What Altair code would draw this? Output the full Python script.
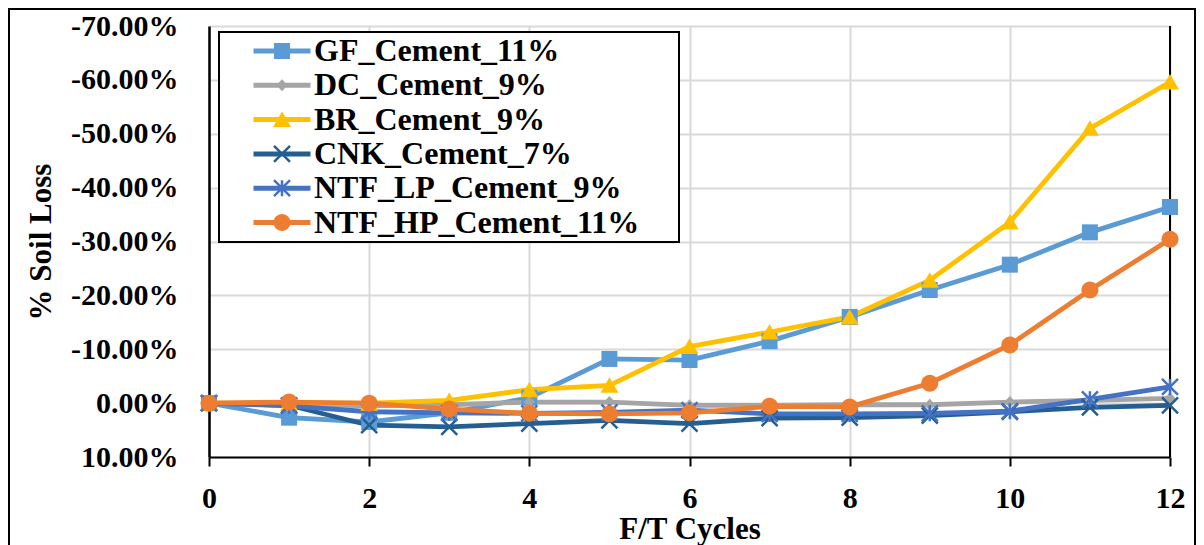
import altair as alt
import pandas as pd

# ---------------- data ----------------
cycles = [0, 1, 2, 3, 4, 5, 6, 7, 8, 9, 10, 11, 12]
series_names = ["GF_Cement_11%", "DC_Cement_9%", "BR_Cement_9%",
                "CNK_Cement_7%", "NTF_LP_Cement_9%", "NTF_HP_Cement_11%"]
series_keys = ["GF", "DC", "BR", "CNK", "NTF_LP", "NTF_HP"]

gf_cement_11 = [0, 2.7, 3.5, 1.8, -1.0, -8.2, -8.0, -11.5, -16.0, -21.0, -25.7, -31.7, -36.4]
dc_cement_9 = [0, 0.2, 0.5, 0.3, -0.2, -0.2, 0.4, 0.4, 0.3, 0.3, -0.2, -0.5, -0.9]
br_cement_9 = [0, 0, 0, -0.5, -2.5, -3.3, -10.5, -13.2, -16.0, -22.8, -33.6, -51.0, -59.6]
cnk_cement_7 = [0, 0.4, 4.1, 4.4, 3.8, 3.2, 3.8, 2.8, 2.7, 2.3, 1.6, 0.8, 0.4]
ntf_lp_cement_9 = [0, 0.5, 1.6, 1.8, 1.9, 1.7, 1.3, 2.0, 2.0, 1.9, 1.5, -0.7, -3.0]
ntf_hp_cement_11 = [0, -0.2, 0, 1.1, 1.9, 2.0, 1.8, 0.6, 0.7, -3.7, -10.8, -21.0, -30.4]

colors = ["#5B9BD5", "#A5A5A5", "#FFC000", "#255E91", "#4472C4", "#ED7D31"]
y_ticks = [-70, -60, -50, -40, -30, -20, -10, 0, 10]
x_ticks = [0, 2, 4, 6, 8, 10, 12]

# marker shapes (custom paths, unit box scaled by sqrt(size)/2)
a = 0.18
b = 0.25
s = 1.6
x_bar1 = f"M{-s+a},{-s-a}L{s+a},{s-a}L{s-a},{s+a}L{-s-a},{-s+a}Z"
x_bar2 = f"M{-s-a},{s-a}L{s-a},{-s-a}L{s+a},{-s+a}L{-s+a},{s+a}Z"
v_bar = f"M{-b},{-s}L{b},{-s}L{b},{s}L{-b},{s}Z"
markers = [
    "M-1.6,-1.6H1.6V1.6H-1.6Z",
    "M0,-1.2L1.1,0L0,1.2L-1.1,0Z",
    "M0,-1.6L1.8,1.5L-1.8,1.5Z",
    x_bar1 + x_bar2,
    x_bar1 + x_bar2 + v_bar,
    "M1.7,0C1.7,0.94 0.94,1.7 0,1.7C-0.94,1.7 -1.7,0.94 -1.7,0"
    "C-1.7,-0.94 -0.94,-1.7 0,-1.7C0.94,-1.7 1.7,-0.94 1.7,0Z",
]

rows = []
for name, key, vals in zip(series_names, series_keys,
                           [gf_cement_11, dc_cement_9, br_cement_9,
                            cnk_cement_7, ntf_lp_cement_9, ntf_hp_cement_11]):
    for c, v in zip(cycles, vals):
        rows.append({"cycle": c, "loss": v, "series": name, "key": key})
df = pd.DataFrame(rows)

FONT = "Liberation Serif"
W, H = 961, 431

x_enc = alt.X(
    "cycle:Q",
    scale=alt.Scale(domain=[0, 12], nice=False, zero=False),
    axis=alt.Axis(
        values=x_ticks, title="F/T Cycles", format="d",
        grid=True, gridColor="#d9d9d9", gridWidth=2,
        domainColor="black", domainWidth=2,
        tickColor="black", tickWidth=2, tickSize=9,
        labelFont=FONT, labelFontSize=30, labelFontWeight="bold", labelColor="black",
        labelPadding=17, labelFlush=False, labelOverlap=False,
        titleFont=FONT, titleFontSize=31, titleFontWeight="bold", titleColor="black",
        titleX=W / 2, titleY=81, titleAlign="center", titleBaseline="alphabetic",
    ),
)
y_enc = alt.Y(
    "loss:Q",
    scale=alt.Scale(domain=[-70, 10], reverse=True, nice=False, zero=False),
    axis=alt.Axis(
        values=y_ticks, title="% Soil Loss",
        labelExpr="replace(format(datum.value, '.2f'), '\u2212', '-') + '%'",
        grid=True, gridColor="#d9d9d9", gridWidth=2,
        domainColor="black", domainWidth=2.5, ticks=False,
        labelFont=FONT, labelFontSize=30, labelFontWeight="bold", labelColor="black",
        labelPadding=31, labelOverlap=False, labelFlush=False,
        titleFont=FONT, titleFontSize=31, titleFontWeight="bold", titleColor="black",
        titleX=-168, titleY=H / 2, titleAngle=270, titleAlign="center", titleBaseline="middle",
    ),
)

common_legend = dict(
    orient="none", legendX=10, legendY=6, padding=2,
    rowPadding=0.3, clipHeight=34,
    labelFont=FONT, labelFontSize=32, labelFontWeight="bold",
    labelLimit=1000, symbolSize=100, symbolStrokeWidth=5,
    symbolOffset=45, labelOffset=16, symbolOpacity=1,
)

legend_lines = alt.Legend(
    strokeColor="black", fillColor="white", labelColor="black",
    symbolType="M-5.7,0L5.7,0",
    title=".", titleColor="transparent", titleFontSize=6, titleOrient="right",
    titlePadding=36,
    **common_legend,
)
legend_marks = alt.Legend(
    strokeColor="transparent", fillColor="transparent", labelColor="transparent",
    symbolStrokeColor="transparent", labelExpr="''", title=None,
    **common_legend,
)

frame = alt.Chart(pd.DataFrame({"f": [0]})).mark_rect(
    fillOpacity=0, stroke="black", strokeWidth=2
).encode(
    x=alt.value(-200), x2=alt.value(W + 25), y=alt.value(-17), y2=alt.value(H + 120)
)

base = alt.Chart(df)

right_edge = base.mark_rule(color="black", strokeWidth=2).encode(x="max(cycle):Q")

lines = base.mark_line(strokeWidth=4.8).encode(
    x=x_enc, y=y_enc,
    color=alt.Color("series:N", scale=alt.Scale(domain=series_names, range=colors),
                    legend=legend_lines),
)

points = base.mark_point(filled=True, opacity=1, size=100).encode(
    x="cycle:Q", y="loss:Q",
    fill=alt.Fill("key:N", scale=alt.Scale(domain=series_keys, range=colors),
                  legend=legend_marks),
    shape=alt.Shape("key:N", scale=alt.Scale(domain=series_keys, range=markers),
                    legend=legend_marks),
)

chart = alt.layer(frame, right_edge, lines, points).properties(
    width=W, height=H,
    padding={"left": 201, "top": 18, "right": 26, "bottom": 88},
    autosize=alt.AutoSizeParams(type="none"),
    background="white",
).configure_view(stroke=None).configure_legend(strokeWidth=2)

chart.save("out.html", embed_options={"renderer": "svg", "actions": False})
